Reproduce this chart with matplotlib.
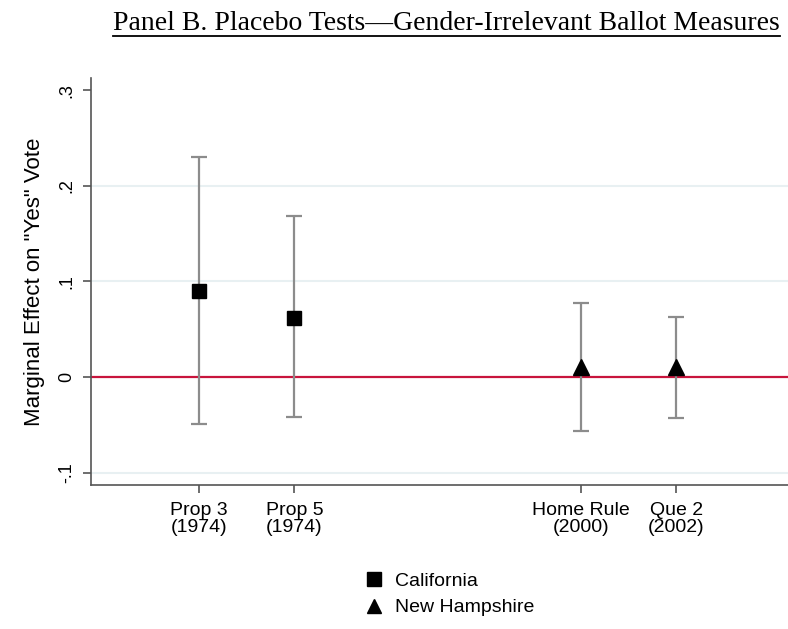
import matplotlib
matplotlib.use('Agg')
import matplotlib.pyplot as plt
from matplotlib.lines import Line2D

# data
labels = ['Prop 3\n(1974)', 'Prop 5\n(1974)', 'Home Rule\n(2000)', 'Que 2\n(2002)']
xpos = [1, 2, 5, 6]
est = [0.090, 0.062, 0.010, 0.010]
lo = [-0.049, -0.042, -0.057, -0.043]
hi = [0.230, 0.169, 0.077, 0.063]
state = ['California', 'California', 'New Hampshire', 'New Hampshire']
markers = {'California': 's', 'New Hampshire': '^'}

plt.rcParams['font.family'] = ['Liberation Sans', 'DejaVu Sans']

fig = plt.figure(figsize=(7.88, 6.29), dpi=100)
ax = fig.add_axes([0.1155, 0.229, 0.8845, 0.647])

for t in [-0.1, 0.1, 0.2]:
    ax.axhline(t, color='#e8f0f2', lw=1.5, zorder=0)
ax.axhline(0, color='#c8143c', lw=1.6, zorder=1)

for x, e, l, h, s in zip(xpos, est, lo, hi, state):
    ax.errorbar(x, e, yerr=[[e - l], [h - e]], fmt='none', ecolor='#8c8c8c',
                elinewidth=1.6, capsize=6, capthick=1.6, zorder=2)
    ax.plot(x, e, marker=markers[s], color='black', ms=10 if s == 'California' else 11,
            ls='none', zorder=3)

ax.set_xlim(-0.13, 7.17)
ax.set_ylim(-0.113, 0.313)
ax.set_xticks(xpos)
ax.set_xticklabels(labels, fontsize=14, linespacing=1.05)
ax.set_yticks([-0.1, 0, 0.1, 0.2, 0.3])
ax.set_yticklabels(['-.1', '0', '.1', '.2', '.3'], fontsize=13, rotation=90, va='center')
ax.set_ylabel('Marginal Effect on "Yes" Vote', fontsize=16, labelpad=10)

for sp in ['top', 'right']:
    ax.spines[sp].set_visible(False)
for sp in ['left', 'bottom']:
    ax.spines[sp].set_color('#555555')
    ax.spines[sp].set_linewidth(1.2)
ax.tick_params(direction='out', length=6, color='#555555', width=1.2)
ax.tick_params(axis='y', pad=5)
ax.tick_params(axis='x', pad=6)

# title, underlined
title = fig.text(0.99, 0.953, 'Panel B. Placebo Tests\u2014Gender-Irrelevant Ballot Measures',
                 ha='right', va='baseline', fontsize=20, family='Liberation Serif')
fig.canvas.draw()
bb = title.get_window_extent().transformed(fig.transFigure.inverted())
fig.add_artist(Line2D([bb.x0, bb.x1], [0.942, 0.942], color='black', lw=1.3,
                      transform=fig.transFigure))

handles = [Line2D([], [], marker=markers[k], color='black', ls='none', ms=10) for k in markers]
fig.legend(handles, list(markers), loc='center', bbox_to_anchor=(0.569, 0.055),
           frameon=False, fontsize=14, handletextpad=0.5, labelspacing=0.45,
           handlelength=1.2)

fig.savefig('out.png', dpi=100)
